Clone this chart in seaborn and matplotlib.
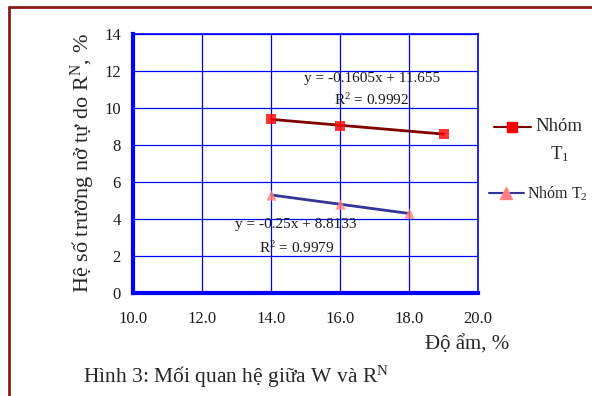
import matplotlib
matplotlib.use("Agg")
import matplotlib.pyplot as plt
from matplotlib.lines import Line2D
from matplotlib.legend_handler import HandlerLine2D
import seaborn as sns
import pandas as pd

# data
moisture_t1 = [14, 16, 19]
swell_t1 = [9.4, 9.05, 8.6]
moisture_t2 = [14, 16, 18]
swell_t2 = [5.3, 4.8, 4.3]

x_ticks = [10, 12, 14, 16, 18, 20]
y_ticks = [0, 2, 4, 6, 8, 10, 12, 14]

eq_t1 = "y = -0.1605x + 11.655"
r2_t1 = "R$^2$ = 0.9992"
eq_t2 = "y = -0.25x + 8.8133"
r2_t2 = "R$^2$ = 0.9979"

sns.set_style("white")
plt.rcParams["font.family"] = ["Liberation Serif", "DejaVu Serif"]
plt.rcParams["mathtext.fontset"] = "custom"
plt.rcParams["mathtext.rm"] = "Liberation Serif"
plt.rcParams["mathtext.it"] = "Liberation Serif:italic"


class TopAlignedHandler(HandlerLine2D):
    """Legend handle lifted to sit next to the first line of a two-line label."""
    def __init__(self, lift=0, **kw):
        super().__init__(**kw)
        self.lift = lift

    def create_artists(self, legend, orig_handle, xdescent, ydescent,
                       width, height, fontsize, trans):
        arts = super().create_artists(legend, orig_handle, xdescent, ydescent,
                                      width, height, fontsize, trans)
        for a in arts:
            a.set_ydata([y + self.lift for y in a.get_ydata()])
        return arts


df1 = pd.DataFrame({"x": moisture_t1, "y": swell_t1})
df2 = pd.DataFrame({"x": moisture_t2, "y": swell_t2})

fig = plt.figure(figsize=(5.92, 3.96), dpi=100)
ax = fig.add_axes([0.2255, 0.26, 0.582, 0.654])

blue = "#0000FF"
c1_line, c1_mark = "#800000", "#FF0000"
c2_line, c2_mark = "#333399", "#FF8080"

ax.grid(True, color=blue, linewidth=0.9)
ax.set_axisbelow(True)

sns.regplot(data=df1, x="x", y="y", ci=None, ax=ax, truncate=True,
            marker="s", scatter_kws={"color": c1_mark, "s": 45, "zorder": 4, "linewidths": 0},
            line_kws={"color": c1_line, "linewidth": 2, "zorder": 3})
sns.regplot(data=df2, x="x", y="y", ci=None, ax=ax, truncate=True,
            marker="^", scatter_kws={"color": c2_mark, "s": 55, "zorder": 4, "linewidths": 0},
            line_kws={"color": c2_line, "linewidth": 2, "zorder": 3})

ax.set_xlim(10, 20)
ax.set_ylim(0, 14)
ax.set_xticks(x_ticks)
ax.set_xticklabels([f"{v:.1f}" for v in x_ticks])
ax.set_yticks(y_ticks)
ax.set_xlabel("")
ax.set_ylabel("Hệ số trương nở tự do R$^{\\mathrm{N}}$, %", fontsize=16, labelpad=5)

for side in ["top", "right"]:
    ax.spines[side].set_color(blue)
    ax.spines[side].set_linewidth(1.2)
for side in ["left", "bottom"]:
    ax.spines[side].set_color(blue)
    ax.spines[side].set_linewidth(3)
ax.tick_params(axis="both", colors=blue, labelcolor="#1a1a1a", labelsize=12,
               width=2.5, length=5)
ax.tick_params(axis="x", direction="inout", length=6, pad=10)
ax.tick_params(axis="y", direction="out", pad=4)

ax.text(16.92, 11.62, eq_t1, ha="center", va="center", fontsize=11, color="#1a1a1a")
ax.text(16.92, 10.43, r2_t1, ha="center", va="center", fontsize=11, color="#1a1a1a")
ax.text(14.72, 3.68, eq_t2, ha="center", va="center", fontsize=11, color="#1a1a1a")
ax.text(14.73, 2.43, r2_t2, ha="center", va="center", fontsize=11, color="#1a1a1a")

h1 = Line2D([], [], color=c1_line, linewidth=1.5, marker="s", markersize=7,
            markerfacecolor=c1_mark, markeredgecolor=c1_mark)
h2 = Line2D([], [], color=c2_line, linewidth=1.5, marker="^", markersize=8,
            markerfacecolor=c2_mark, markeredgecolor=c2_mark)
leg1 = fig.legend(handles=[h1], labels=["Nhóm\nT$_1$"], loc="upper left",
                  bbox_to_anchor=(0.821, 0.72), frameon=False, fontsize=13.5,
                  handlelength=2.0, handletextpad=0.25, borderaxespad=0,
                  handler_map={h1: TopAlignedHandler(lift=10)})
for t in leg1.get_texts():
    t.set_multialignment("center")
    t.set_linespacing(1.6)
leg2 = fig.legend(handles=[h2], labels=["Nhóm T$_2$"], loc="upper left",
                  bbox_to_anchor=(0.815, 0.55), frameon=False, fontsize=11.5,
                  handlelength=2.2, handletextpad=0.2, borderaxespad=0)

fig.text(467 / 592, 1 - 345 / 396, "Độ ẩm, %", ha="center", va="center", fontsize=15)
fig.text(83 / 592, 1 - 377 / 396, "Hình 3: Mối quan hệ giữa W và R$^{\\mathrm{N}}$",
         ha="left", va="center", fontsize=15.5)

border = "#8B1A1A"
fig.add_artist(Line2D([0.016, 0.016], [0, 0.983], color=border, linewidth=2,
                      transform=fig.transFigure))
fig.add_artist(Line2D([0.016, 1.0], [0.983, 0.983], color=border, linewidth=2,
                      transform=fig.transFigure))

fig.savefig("out.png", dpi=100)
